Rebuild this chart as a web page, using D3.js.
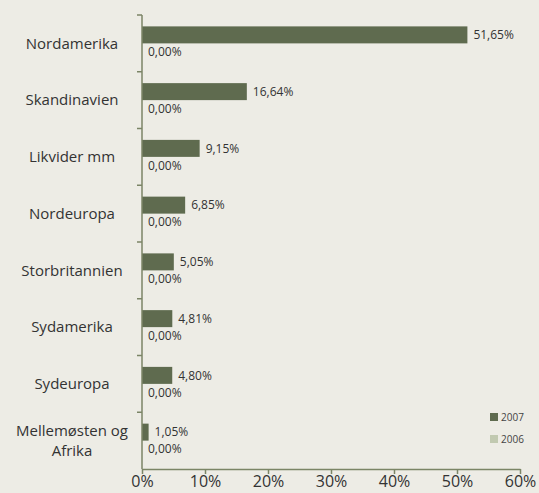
<!DOCTYPE html>
<html>
<head>
<meta charset="utf-8">
<script src="https://cdn.jsdelivr.net/npm/d3@7"></script>
<style>
  html, body { margin: 0; padding: 0; background: #edece5; }
  svg { display: block; }
</style>
</head>
<body>
<div id="chart"></div>
<script>
// Data
const categories = ['Nordamerika', 'Skandinavien', 'Likvider mm', 'Nordeuropa',
  'Storbritannien', 'Sydamerika', 'Sydeuropa', 'Mellemøsten og Afrika'];
const values2007 = [51.65, 16.64, 9.15, 6.85, 5.05, 4.81, 4.80, 1.05];
const values2006 = [0, 0, 0, 0, 0, 0, 0, 0];
const series = ['2007', '2006'];
const xTicks = [0, 10, 20, 30, 40, 50, 60];

const colors = { '2007': '#5f6b4f', '2006': '#c1c9b0' };
const axisColor = '#7b8566';
const pctformat = v => d3.format('.2f')(v).replace('.', ',') + '%';

var width = 539, height = 493;
var margin = { top: 15, right: 19, bottom: 24, left: 142 };

var svg = d3.select('#chart').append('svg')
  .attr('width', width)
  .attr('height', height)
  .style('font-family', 'Open Sans');

var x = d3.scaleLinear().domain([0, 60]).range([margin.left, width - margin.right]);
var y = d3.scaleBand().domain(categories).range([margin.top, height - margin.bottom]);
var ySub = d3.scaleBand().domain(series).range([0, y.bandwidth()]).paddingOuter(0.67);

var rows = categories.map((c, i) => ({ cat: c, '2007': values2007[i], '2006': values2006[i] }));

// bars
var g = svg.selectAll('.row')
  .data(rows)
  .enter()
  .append('g')
  .attr('class', 'row')
  .attr('transform', d => 'translate(0,' + y(d.cat) + ')');

series.forEach(s => {
  g.append('rect')
    .attr('x', x(0))
    .attr('y', ySub(s))
    .attr('width', d => x(d[s]) - x(0))
    .attr('height', ySub.bandwidth())
    .attr('fill', colors[s]);

  g.append('text')
    .attr('x', d => x(d[s]) + 6)
    .attr('y', ySub(s) + ySub.bandwidth() / 2)
    .attr('dy', '0.35em')
    .style('font-size', '12px')
    .style('fill', '#333')
    .text(d => pctformat(d[s]));
});

// y axis
var yAxis = svg.append('g')
  .attr('transform', 'translate(' + x(0) + ',0)');
yAxis.append('line')
  .attr('y1', margin.top).attr('y2', height - margin.bottom)
  .attr('stroke', axisColor).attr('stroke-width', 1.5);
yAxis.selectAll('.ytick')
  .data(categories)
  .enter()
  .append('line')
  .attr('x1', -5).attr('x2', 0)
  .attr('y1', d => y(d)).attr('y2', d => y(d))
  .attr('stroke', axisColor).attr('stroke-width', 1.5);

// category labels
svg.selectAll('.cat')
  .data(categories)
  .enter()
  .append('text')
  .attr('text-anchor', 'middle')
  .style('font-size', '15px')
  .style('fill', '#333')
  .each(function(d) {
    var words = d === 'Mellemøsten og Afrika' ? ['Mellemøsten og', 'Afrika'] : [d];
    var cy = y(d) + y.bandwidth() / 2;
    var t = d3.select(this);
    words.forEach((w, i) => {
      t.append('tspan')
        .attr('x', 72)
        .attr('y', cy + (i - (words.length - 1) / 2) * 20)
        .attr('dy', '0.35em')
        .text(w);
    });
  });

// x axis
var xAxis = svg.append('g')
  .attr('transform', 'translate(0,' + (height - margin.bottom) + ')')
  .call(d3.axisBottom(x).tickValues(xTicks).tickSize(5).tickSizeOuter(0).tickFormat(d => d + '%'));
xAxis.select('.domain').attr('stroke', axisColor).attr('stroke-width', 1.5);
xAxis.selectAll('.tick line').attr('stroke', axisColor).attr('stroke-width', 1.5);
xAxis.selectAll('.tick text')
  .attr('y', 7)
  .style('font-family', 'Open Sans')
  .style('font-size', '16px')
  .style('fill', '#333');

// legend
var legend = svg.selectAll('.legend')
  .data(series)
  .enter()
  .append('g')
  .attr('transform', (d, i) => 'translate(490,' + (413 + i * 22) + ')');
legend.append('rect')
  .attr('width', 8).attr('height', 8)
  .attr('fill', d => colors[d]);
legend.append('text')
  .attr('x', 11).attr('y', 4)
  .attr('dy', '0.35em')
  .style('font-size', '10px')
  .style('fill', '#444')
  .text(d => d);
</script>
</body>
</html>
